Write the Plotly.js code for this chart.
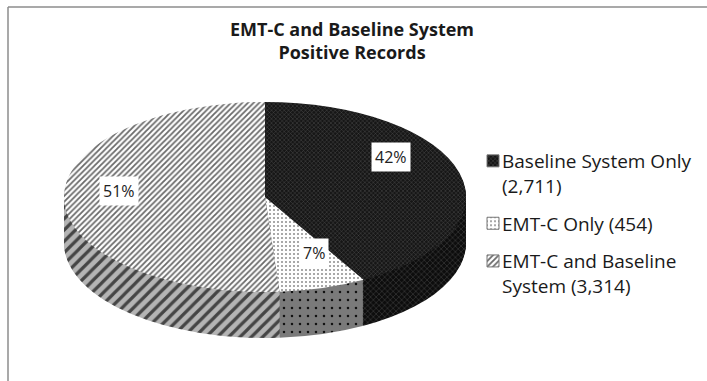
<!DOCTYPE html>
<html><head><meta charset="utf-8">
<script src="https://cdn.plot.ly/plotly-3.0.1.min.js"></script>
<style>html,body{margin:0;padding:0;background:#fff;} #chart{width:707px;height:381px;}</style>
</head><body><div id="chart"></div>
<script>
// ---- data ----
const categories = ['Baseline System Only', 'EMT-C Only', 'EMT-C and Baseline System'];
const values = [2711, 454, 3314];
const titleLines = ['EMT-C and Baseline System', 'Positive Records'];

// ---- layout constants (pixels) ----
const W = 707, H = 381;
const ELL = {cx: 265, cy: 197, a: 201, b: 95, depth: 46};
const labelPos = [[391, 157], [314, 268], [99, 191]];
const FONT = '"Open Sans", Lato, sans-serif';

function wrap(s, n) {
  const words = s.split(' '); const lines = []; let cur = '';
  for (const w of words) {
    if (cur && (cur + ' ' + w).length > n) { lines.push(cur); cur = w; }
    else cur = cur ? cur + ' ' + w : w;
  }
  if (cur) lines.push(cur);
  return lines.join('<br>');
}
const fmt = v => v.toLocaleString('en-US');
const legendNames = categories.map((c, i) => wrap(c + ' (' + fmt(values[i]) + ')', 20));
const total = values.reduce((a, b) => a + b, 0);
const pct = values.map(v => Math.round(100 * v / total) + '%');

const common = {
  type: 'pie', labels: legendNames, values: values, sort: false,
  direction: 'clockwise', rotation: 0, domain: {x: [0, 1], y: [0, 1]},
  textinfo: 'none', hoverinfo: 'skip'
};
const wallTrace = Object.assign({}, common, {
  showlegend: false,
  marker: {
    colors: ['#0d0d0d', '#7f7f7f', '#b2b2b2'], line: {width: 0},
    pattern: {shape: ['x', '.', '/'], bgcolor: ['#0d0d0d', '#7a7a7a', '#b4b4b4'],
      fgcolor: ['#3a3a3a', '#111111', '#454545'], size: [4, 8, 8], solidity: [0.3, 0.08, 0.4]}
  }
});
const topTrace = Object.assign({}, common, {
  marker: {
    colors: ['#1a1a1a', '#ffffff', '#ffffff'], line: {width: 1, color: '#777'},
    pattern: {shape: ['x', '.', '/'], bgcolor: ['#161616', '#ffffff', '#ffffff'],
      fgcolor: ['#555555', '#8c8c8c', '#6a6a6a'], size: [3, 4, 4], solidity: [0.25, 0.2, 0.45]}
  }
});

const annotations = pct.map((t, i) => ({
  text: t, x: labelPos[i][0] / W, y: 1 - labelPos[i][1] / H, xref: 'paper', yref: 'paper',
  showarrow: false, bgcolor: '#ffffff', borderpad: 3,
  font: {family: FONT, size: 16, color: '#222'}
}));

const layout = {
  width: W, height: H, margin: {l: 0, r: 0, t: 0, b: 0},
  paper_bgcolor: '#ffffff', plot_bgcolor: '#ffffff',
  font: {family: FONT, color: '#1a1a1a'},
  title: {text: titleLines.join('<br>'), x: 352 / W, xanchor: 'center', y: 1 - 36 / H, yanchor: 'top',
    font: {family: FONT, size: 18, weight: 700, color: '#1a1a1a'}},
  legend: {x: 462 / W, y: 1 - 142 / H, xanchor: 'left', yanchor: 'top', valign: 'top',
    font: {family: FONT, size: 19, color: '#1a1a1a'}, bgcolor: 'rgba(0,0,0,0)'},
  shapes: [
    {type: 'line', xref: 'paper', yref: 'paper', x0: 8 / W, x1: 8 / W, y0: 1 - 7 / H, y1: -0.05, line: {color: '#8c8c8c', width: 1.5}},
    {type: 'line', xref: 'paper', yref: 'paper', x0: 8 / W, x1: 1.05, y0: 1 - 7 / H, y1: 1 - 7 / H, line: {color: '#8c8c8c', width: 1.5}}
  ],
  annotations: annotations
};

const gd = document.getElementById('chart');
Plotly.newPlot(gd, [wallTrace, topTrace], layout, {staticPlot: true}).then(() => {
  const NS = 'http://www.w3.org/2000/svg';
  const layer = gd.querySelector('.pielayer');
  const traceGs = layer.querySelectorAll('g.trace');
  const cd = gd.calcdata[1][0];
  const cx = cd.cx, cy = cd.cy, r = cd.r;
  const sx = ELL.a / r, sy = ELL.b / r;
  const tf = dy => `translate(${ELL.cx},${ELL.cy + dy}) scale(${sx},${sy}) translate(${-cx},${-cy})`;
  const svg = layer.ownerSVGElement;
  const defs = svg.querySelector('defs');
  const out = document.createElementNS(NS, 'g');
  out.setAttribute('class', 'pie3d');
  layer.parentNode.insertBefore(out, layer.nextSibling);
  function build(traceG, steps, prefix) {
    traceG.querySelectorAll('g.slice').forEach((sl, i) => {
      const p = sl.querySelector('path.surface');
      const d = p.getAttribute('d');
      const fill = p.style.fill;
      const cp = document.createElementNS(NS, 'clipPath');
      cp.setAttribute('id', prefix + i);
      steps.forEach(k => {
        const q = document.createElementNS(NS, 'path');
        q.setAttribute('d', d); q.setAttribute('transform', tf(k));
        cp.appendChild(q);
      });
      defs.appendChild(cp);
      const rect = document.createElementNS(NS, 'rect');
      rect.setAttribute('x', 0); rect.setAttribute('y', 0);
      rect.setAttribute('width', W); rect.setAttribute('height', H);
      rect.style.fill = fill;
      rect.setAttribute('clip-path', `url(#${prefix + i})`);
      out.appendChild(rect);
    });
  }
  const steps = [];
  for (let k = 1; k <= ELL.depth; k++) steps.push(k);
  build(traceGs[0], steps, 'wallclip');
  build(traceGs[1], [0], 'topclip');
  layer.style.display = 'none';

  // legend: extra gap between entries, symbols closer to text
  const leg = gd.querySelector('.legend');
  leg.querySelectorAll('[clip-path]').forEach(el => el.removeAttribute('clip-path'));
  leg.querySelectorAll('g.traces').forEach((g, i) => {
    const m = /translate\(([-\d.]+)[ ,]+([-\d.]+)\)/.exec(g.getAttribute('transform') || '');
    if (m) g.setAttribute('transform', `translate(${+m[1]},${+m[2] + 10 * i})`);
    const pts = g.querySelector('.legendpoints');
    if (pts) pts.setAttribute('transform', 'translate(11,0)');
  });
});
</script>
</body></html>
